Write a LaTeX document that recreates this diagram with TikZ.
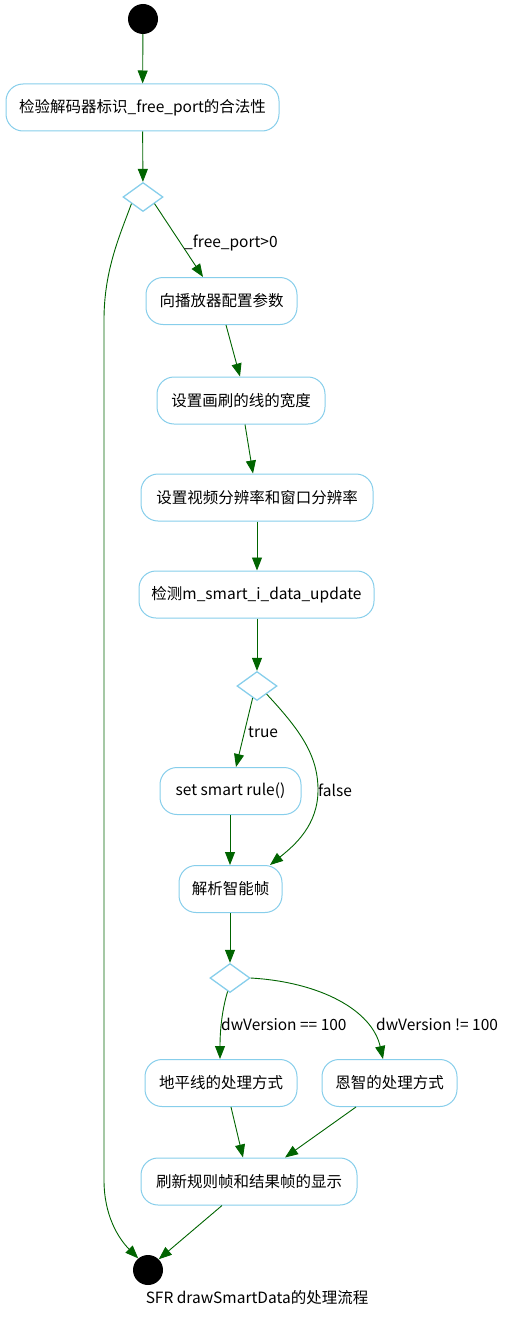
\documentclass[tikz,border=0pt]{standalone}
\usepackage{fontspec}
\newfontfamily\cjk{Noto Sans CJK SC}
\usetikzlibrary{shapes.geometric,arrows.meta}
\definecolor{edgegreen}{RGB}{0,100,0}
\definecolor{boxblue}{RGB}{135,206,235}
\tikzset{
  stepbox/.style={draw=boxblue, line width=1pt, fill=white, rounded corners=17pt,
    minimum height=47pt, inner sep=0pt, font=\cjk\fontsize{15.5}{17}\selectfont},
  decision/.style={draw=boxblue, line width=1.3pt, diamond, minimum width=40pt,
    minimum height=29pt, inner sep=0pt},
  dot/.style={circle, fill=black, minimum size=30pt, inner sep=0pt},
  flow/.style={draw=edgegreen, line width=0.9pt, -{Triangle[length=13pt,width=10pt]}},
  lbl/.style={font=\cjk\fontsize{15.5}{17}\selectfont, anchor=west, inner sep=0pt},
}
\begin{document}
\begin{tikzpicture}[x=1pt,y=-1pt]
\useasboundingbox (0,0) rectangle (515,1319);
\node[dot] (start) at (143,19) {};
\node[stepbox, minimum width=273pt] (b1) at (142.5,107.5) {检验解码器标识\_free\_port的合法性};
\node[decision] (d1) at (143,197) {};
\node[stepbox, minimum width=151pt] (b2) at (221.5,301) {向播放器配置参数};
\node[stepbox, minimum width=168pt] (b3) at (241,400.5) {设置画刷的线的宽度};
\node[stepbox, minimum width=232pt] (b4) at (257,497.5) {设置视频分辨率和窗口分辨率};
\node[stepbox, minimum width=235pt] (b5) at (256.5,594.5) {检测m\_smart\_i\_data\_update};
\node[decision] (d2) at (257,686) {};
\node[stepbox, minimum width=141pt] (b6) at (230.5,791) {set smart rule()};
\node[stepbox, minimum width=103pt] (b7) at (230.5,889) {解析智能帧};
\node[decision] (d3) at (230,978) {};
\node[stepbox, minimum width=152pt] (b8) at (221,1083) {地平线的处理方式};
\node[stepbox, minimum width=135pt] (b9) at (389.5,1083) {恩智的处理方式};
\node[stepbox, minimum width=216pt] (b10) at (249,1181.5) {刷新规则帧和结果帧的显示};
\node[dot] (end) at (148,1270) {};
\node[font=\cjk\fontsize{15.5}{17}\selectfont, inner sep=0pt] (cap) at (257,1298) {SFR drawSmartData的处理流程};

\draw[flow] (start) -- (b1);
\draw[flow] (b1) -- (d1);
\draw[flow] (d1.-30) -- (b2.north west -| 203,0);
\draw[flow] (b2.south -| 226,0) -- (b3.north -| 240,0);
\draw[flow] (b3.south -| 245,0) -- (b4.north -| 253,0);
\draw[flow] (b4.south -| 257,0) -- (b5.north -| 257,0);
\draw[flow] (b5.south -| 257,0) -- (d2);
\draw[flow] (d2.-110) -- (b6.north -| 236,0);
\draw[flow] (d2.-40) .. controls (300,730) and (318,755) .. (318,790) .. controls (318,825) and (295,845) .. (b7.north -| 270,0);
\draw[flow] (b6.south -| 230,0) -- (b7.north -| 230,0);
\draw[flow] (b7.south -| 230,0) -- (d3);
\draw[flow] (d3.-100) .. controls (222,1010) and (220,1030) .. (b8.north -| 220,0);
\draw[flow] (d3.east) .. controls (320,982) and (372,1010) .. (b9.north -| 383,0);
\draw[flow] (b8.south -| 231,0) -- (b10.north -| 243,0);
\draw[flow] (b9.south -| 356,0) -- (b10.north -| 285,0);
\draw[flow] (b10.south -| 222,0) -- (end.45);
\draw[flow] (d1.-150) .. controls (120,235) and (104,270) .. (104,320) -- (104,1180) .. controls (104,1215) and (118,1238) .. (end.130);

\node[lbl] (l1) at (184,243) {\_free\_port>0};
\node[lbl] (l2) at (248,732) {true};
\node[lbl] (l3) at (318,790) {false};
\node[lbl] (l4) at (221,1024) {dwVersion == 100};
\node[lbl] (l5) at (376,1024) {dwVersion != 100};
\end{tikzpicture}
\end{document}
